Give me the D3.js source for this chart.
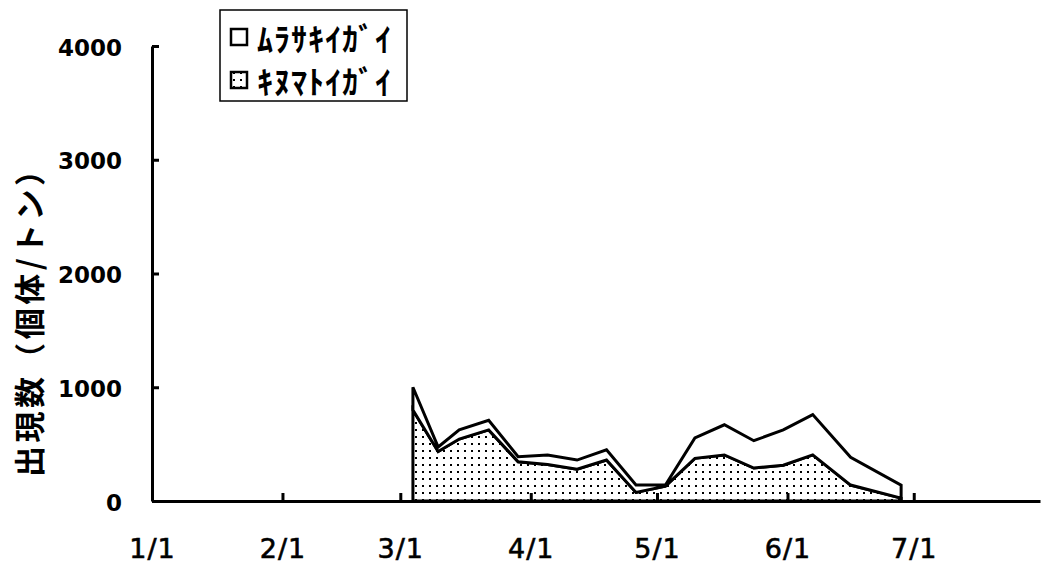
<!DOCTYPE html>
<html><head><meta charset="utf-8">
<script src="https://cdn.jsdelivr.net/npm/d3@7"></script>
<style>
html,body{margin:0;padding:0;background:#fff;}
svg{display:block;}
</style></head>
<body>
<svg id="chart" width="1042" height="571"></svg>
<script>
// ---- data ----
const dates = ["3/4","3/10","3/15","3/22","3/29","4/5","4/12","4/19","4/26","5/3","5/10","5/17","5/24","5/31","6/7","6/16","6/28"];
const kinumatoi = [800,435,545,625,345,320,280,360,75,130,375,405,290,315,405,140,25];
const murasaki  = [200,40,80,85,45,85,80,90,65,10,180,265,240,310,355,245,115];
const seriesNames = ["ﾑﾗｻｷｲｶﾞｲ","ｷﾇﾏﾄｲｶﾞｲ"];
const yTicks = [0,1000,2000,3000,4000];
const yLabel = "出現数（個体/トン）";
const year = 2001;

const parse = s => { const [m,d] = s.split("/").map(Number); return new Date(year, m-1, d); };
const rows = dates.map((d,i)=>({date:parse(d), kinu:kinumatoi[i], mura:murasaki[i]}));

const svg = d3.select("#chart");
const x = d3.scaleTime().domain([new Date(year,0,1), new Date(year,6,31)]).range([152,1040]);
const y = d3.scaleLinear().domain([0,4000]).range([501,46]);

// pattern
const defs = svg.append("defs");
const pat = defs.append("pattern").attr("id","dots").attr("patternUnits","userSpaceOnUse")
  .attr("width",7).attr("height",7);
pat.append("rect").attr("width",7).attr("height",7).attr("fill","#fff");
pat.append("rect").attr("x",2).attr("y",2).attr("width",2).attr("height",2).attr("fill","#000");

const stack = d3.stack().keys(["kinu","mura"]);
const layers = stack(rows);
const area = d3.area().x(d=>x(d.data.date)).y0(d=>y(d[0])).y1(d=>y(d[1]));

svg.append("path").datum(layers[0]).attr("d",area)
  .attr("fill","url(#dots)").attr("stroke","#000").attr("stroke-width",3).attr("stroke-linejoin","miter");
svg.append("path").datum(layers[1]).attr("d",area)
  .attr("fill","#fff").attr("stroke","#000").attr("stroke-width",3).attr("stroke-linejoin","miter");

// axes
const yAxis = d3.axisLeft(y).tickValues(yTicks).tickFormat(d3.format("d"))
  .tickSizeInner(-7).tickSizeOuter(0).tickPadding(30);
const gy = svg.append("g").attr("transform","translate(152,0)").call(yAxis);
gy.select(".domain").attr("stroke-width",3);
gy.selectAll(".tick line").attr("stroke-width",3);
gy.selectAll("text").attr("font-family","'DejaVu Sans'").attr("font-weight","bold")
  .attr("font-size",23).attr("fill","#000").attr("dy","0.40em");

const xAxis = d3.axisBottom(x).ticks(d3.timeMonth.every(1))
  .tickFormat(d=>(d.getMonth()+1)+"/"+d.getDate()).tickSizeInner(-8).tickSizeOuter(0).tickPadding(38);
const gx = svg.append("g").attr("transform","translate(0,501)").call(xAxis);
gx.select(".domain").attr("stroke-width",3);
gx.selectAll(".tick line").attr("stroke-width",3);
gx.selectAll("text").attr("font-family","'DejaVu Sans'").attr("font-size",27)
  .attr("fill","#000").attr("stroke","#000").attr("stroke-width",0.6).attr("letter-spacing","1px");

// y label
svg.append("text").attr("transform","translate(27,316) rotate(-90)")
  .attr("text-anchor","middle").attr("dominant-baseline","central")
  .attr("font-family","'Noto Sans CJK JP'").attr("font-weight","bold").attr("font-size",31)
  .attr("textLength",322).attr("lengthAdjust","spacing")
  .text(yLabel);

// legend
const lg = svg.append("g");
lg.append("rect").attr("x",220).attr("y",10).attr("width",187).attr("height",91)
  .attr("fill","#fff").attr("stroke","#000").attr("stroke-width",1.5);
const fills = ["#fff","url(#dots)"];
seriesNames.forEach((n,i)=>{
  const cy = 37 + i*43;
  lg.append("rect").attr("x",231).attr("y",cy-8).attr("width",16).attr("height",16)
    .attr("fill",fills[i]).attr("stroke","#000").attr("stroke-width",2.5);
  lg.append("text").attr("x",257).attr("y",cy).attr("dominant-baseline","central")
    .attr("font-family","'Noto Sans CJK JP'").attr("font-weight","bold").attr("font-size",32)
    .attr("textLength",134).attr("lengthAdjust","spacing")
    .text(n);
});
</script>
</body></html>
